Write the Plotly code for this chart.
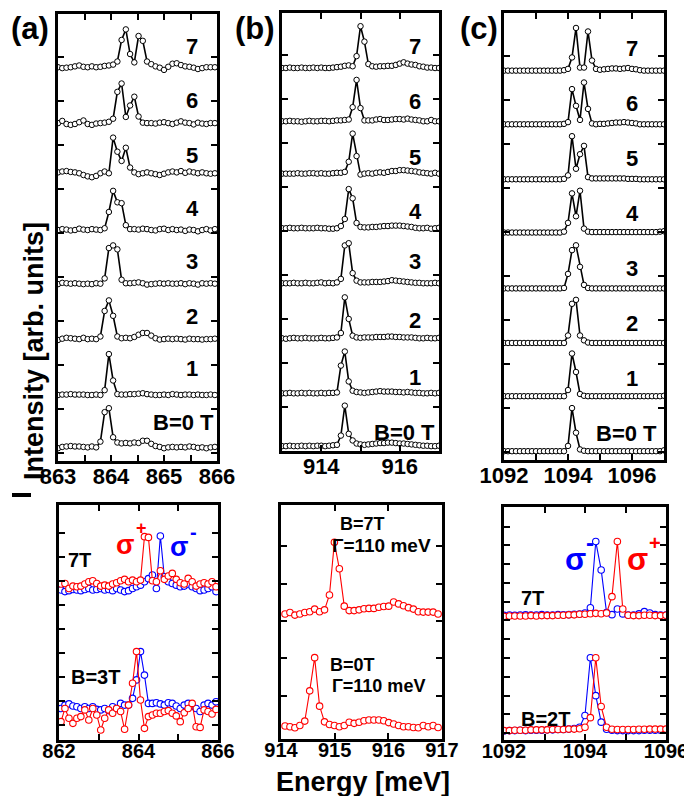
import plotly.graph_objects as go

W, H = 684, 796
FONT = "Liberation Sans, Arial, sans-serif"

def px(x):
    return x / W

def py(y):
    return 1 - y / H

# ---------------- DATA ----------------
# Top row, panel (a): energy grid start/step, baseline offsets, spectra (relative to baseline)
A_X0, A_DX = 863.0, 0.08
A_offsets = [0.11, 1.32, 2.59, 3.86, 5.07, 6.36, 7.48, 8.75]
A0 = [0.0, 0.03, 0.04, 0.05, 0.04, 0.04, 0.03, 0.02, 0.04, 0.02, 0.15, 0.82, 0.91, 0.25, 0.13, 0.11, 0.12, 0.11, 0.13,
      0.12, 0.17, 0.17, 0.10, 0.05, 0.03, 0.0, 0.02, 0.03, 0.02, 0.03, 0.02, 0.04, 0.03, 0.01, 0.02, 0.0, 0.02, 0.03]
A1 = [0.0, 0.01, 0.01, 0.02, 0.01, 0.01, 0.01, 0.0, 0.0, 0.01, 0.0, 0.11, 0.93, 0.33, 0.02, 0.01, 0.01, 0.02, 0.02,
      0.03, 0.04, 0.02, 0.01, 0.0, 0.0, 0.01, 0.0, 0.02, 0.01, 0.0, 0.01, 0.01, 0.0, 0.01, 0.0, 0.0, 0.01, 0.0]
A2 = [-0.02, 0.01, 0.03, 0.02, 0.01, 0.0, 0.03, 0.0, 0.01, 0.0, 0.06, 0.64, 0.88, 0.53, 0.06, 0.02, 0.03, 0.02, 0.05,
      0.10, 0.14, 0.14, 0.08, 0.02, -0.01, 0.0, 0.01, 0.0, 0.01, 0.0, -0.01, 0.01, 0.0, 0.0, -0.01, 0.0, 0.0, 0.01]
A3 = [-0.02, 0.01, 0.0, -0.01, 0.0, -0.01, -0.02, -0.01, -0.02, 0.0, -0.01, 0.11, 0.80, 0.86, 0.77, 0.08, 0.0, 0.0,
      0.01, 0.02, 0.0, -0.03, -0.02, -0.01, 0.0, -0.01, 0.0, -0.01, -0.01, 0.0, -0.02, 0.0, -0.01, -0.03, 0.0, -0.01,
      0.0, -0.01]
A4 = [0.0, 0.02, 0.01, -0.01, 0.0, 0.03, 0.01, 0.0, 0.02, 0.01, 0.0, 0.04, 0.41, 0.89, 0.63, 0.61, 0.11, 0.02, 0.02,
      0.01, 0.03, 0.02, 0.0, -0.01, 0.02, 0.03, 0.0, 0.02, 0.0, 0.01, -0.02, 0.01, 0.0, -0.03, 0.0, 0.02, -0.01, 0.02]
A5 = [0.02, 0.04, 0.05, 0.03, 0.02, 0.0, -0.04, -0.07, -0.09, -0.06, 0.0, 0.04, 0.0, 0.81, 0.49, 0.28, 0.58, 0.13,
      0.02, -0.02, 0.0, 0.02, 0.0, -0.02, -0.04, -0.01, 0.02, 0.04, 0.02, 0.05, 0.01, 0.04, 0.02, 0.0, 0.02, 0.0,
      -0.01, 0.0]
A6 = [0.02, 0.07, 0.0, -0.02, 0.0, 0.04, 0.08, 0.0, -0.02, 0.01, 0.02, 0.03, 0.05, 0.12, 0.73, 0.92, 0.16, 0.42, 0.62,
      0.17, 0.03, 0.02, 0.02, 0.01, 0.03, 0.04, 0.02, 0.0, 0.03, 0.06, 0.03, 0.02, -0.01, 0.03, 0.01, 0.0, 0.02, 0.02]
A7 = [0.02, 0.0, 0.01, 0.02, 0.04, 0.06, 0.03, 0.02, 0.04, 0.02, 0.03, 0.05, 0.06, 0.08, 0.15, 0.64, 0.88, 0.32, 0.13,
      0.73, 0.62, 0.15, 0.09, 0.04, 0.01, -0.04, 0.03, 0.10, 0.11, 0.07, 0.04, 0.03, 0.01, -0.02, 0.0, 0.02, 0.02, 0.02]

# Top row, panel (b)
B_X0, B_DX = 913.0, 0.1
B_offsets = [0.11, 1.31, 2.56, 3.81, 5.06, 6.30, 7.49, 8.70]
B0 = [0.0, 0.0, 0.01, 0.0, 0.0, 0.01, 0.0, 0.01, 0.0, 0.01, 0.01, 0.0, 0.01, 0.02, 0.03, 0.24, 0.92, 0.28, 0.13,
      0.06, 0.04, 0.03, 0.04, 0.05, 0.06, 0.07, 0.07, 0.08, 0.08, 0.07, 0.06, 0.06, 0.05, 0.04, 0.03, 0.02, 0.01, 0.01,
      0.0, 0.0, 0.01]
B1 = [0.0, 0.0, 0.01, 0.0, 0.0, 0.01, 0.0, 0.01, 0.0, 0.0, 0.01, 0.0, 0.01, 0.01, 0.02, 0.63, 0.95, 0.27, 0.06,
      0.03, 0.02, 0.01, 0.02, 0.03, 0.04, 0.05, 0.04, 0.04, 0.04, 0.03, 0.03, 0.02, 0.03, 0.02, 0.01, 0.01, 0.0, 0.0,
      0.01, 0.0, 0.01]
B2 = [0.0, -0.01, 0.0, 0.01, 0.0, 0.0, 0.01, 0.0, 0.0, 0.0, 0.01, 0.0, 0.0, 0.01, 0.02, 0.12, 0.93, 0.44, 0.06,
      0.02, 0.01, 0.02, 0.02, 0.02, 0.03, 0.03, 0.03, 0.04, 0.04, 0.03, 0.03, 0.02, 0.02, 0.02, 0.01, 0.0, 0.0, 0.01,
      0.0, 0.0, 0.01]
B3 = [0.0, 0.0, 0.0, 0.01, 0.0, 0.0, 0.01, 0.0, 0.0, 0.01, 0.02, 0.0, 0.01, 0.0, 0.02, 0.10, 0.86, 0.91, 0.23, 0.06,
      0.02, 0.02, 0.02, 0.03, 0.03, 0.03, 0.04, 0.05, 0.07, 0.06, 0.05, 0.04, 0.03, 0.02, 0.01, 0.01, 0.0, 0.0, 0.0,
      0.01, 0.0]
B4 = [0.0, 0.0, 0.01, 0.0, 0.0, 0.01, 0.0, 0.0, 0.0, 0.01, 0.0, 0.0, -0.01, -0.01, 0.0, 0.05, 0.21, 0.89, 0.68, 0.12,
      0.03, 0.02, 0.02, 0.03, 0.03, 0.04, 0.05, 0.05, 0.06, 0.06, 0.06, 0.05, 0.04, 0.03, 0.01, 0.0, 0.0, 0.01, -0.01,
      0.0, 0.01]
B5 = [0.0, 0.0, 0.0, 0.0, 0.01, 0.0, 0.0, 0.01, 0.01, 0.0, 0.01, 0.0, 0.0, 0.01, 0.02, 0.02, 0.04, 0.27, 0.91, 0.40,
      -0.02, 0.0, 0.01, 0.0, 0.02, 0.03, 0.02, 0.04, 0.06, 0.06, 0.08, 0.08, 0.07, 0.06, 0.05, 0.03, 0.02, 0.01, 0.0,
      0.02, 0.0]
B6 = [0.0, 0.0, 0.01, 0.0, 0.0, -0.01, 0.0, 0.01, 0.0, 0.0, 0.01, 0.01, 0.0, 0.01, 0.02, 0.02, 0.03, 0.04, 0.32, 0.94,
      0.30, 0.02, 0.02, 0.02, 0.04, 0.05, 0.03, 0.03, 0.04, 0.05, 0.05, 0.04, 0.06, 0.04, 0.03, 0.02, 0.0, 0.0, 0.03,
      0.0, 0.0]
B7 = [0.0, 0.0, 0.01, 0.0, 0.0, 0.01, 0.0, 0.0, 0.01, 0.0, 0.01, 0.0, 0.0, 0.01, 0.02, 0.03, 0.05, 0.06, 0.04, 0.27,
      0.95, 0.60, 0.09, 0.04, 0.03, 0.04, 0.04, 0.05, 0.05, 0.07, 0.10, 0.13, 0.10, 0.08, 0.07, 0.04, 0.03, 0.01, 0.01,
      0.0, 0.0]

# Top row, panel (c)
C_X0, C_DX = 1092.0, 0.125
C_offsets = [0.02, 1.27, 2.48, 3.72, 4.99, 6.20, 7.45, 8.67]
C0 = [0.0, 0.0, 0.0, 0.0, 0.0, 0.0, 0.0, 0.0, 0.0, 0.0, 0.0, 0.0, 0.0, 0.0, 0.0, 0.0, 0.12, 0.98, 0.42, 0.04, 0.01,
      0.0, 0.0, 0.0, 0.0, 0.0, 0.0, 0.0, 0.0, 0.0, 0.0, 0.0, 0.0, 0.0, 0.0, 0.0, 0.0, 0.0, 0.0, 0.0, 0.02]
C1 = [0.0, 0.0, 0.0, 0.0, 0.0, 0.0, 0.0, 0.0, 0.0, 0.0, 0.0, 0.0, 0.0, 0.0, 0.0, 0.0, 0.14, 0.97, 0.55, 0.05, 0.01,
      0.0, 0.0, 0.0, 0.0, 0.0, 0.0, 0.0, 0.0, 0.0, 0.0, 0.0, 0.0, 0.0, 0.0, 0.0, 0.0, 0.0, 0.0, 0.0, 0.01]
C2 = [0.0, 0.0, 0.0, 0.0, 0.0, 0.0, 0.0, 0.0, 0.0, 0.0, 0.0, 0.0, 0.0, 0.0, 0.0, 0.0, 0.17, 0.89, 0.98, 0.17, 0.06,
      0.01, 0.0, 0.0, 0.0, 0.0, 0.0, 0.0, 0.0, 0.0, 0.0, 0.0, 0.0, 0.0, 0.0, 0.0, 0.0, 0.0, 0.0, 0.0, 0.0]
C3 = [0.0, 0.0, 0.0, 0.0, 0.0, 0.0, 0.0, 0.0, 0.0, 0.0, 0.0, 0.0, 0.0, 0.0, 0.0, 0.01, 0.33, 0.87, 0.98, 0.49, 0.08,
      0.01, 0.0, 0.0, 0.0, 0.0, 0.0, 0.0, 0.0, 0.0, 0.0, 0.0, 0.0, 0.0, 0.0, 0.0, 0.0, 0.0, 0.0, 0.0, 0.0]
C4 = [0.0, 0.0, 0.0, 0.0, 0.0, 0.0, 0.0, 0.0, 0.0, 0.0, 0.0, 0.0, 0.0, 0.0, 0.0, 0.02, 0.22, 0.89, 0.37, 0.95, 0.09,
      0.02, 0.01, 0.01, 0.01, 0.01, 0.01, 0.01, 0.01, 0.01, 0.01, 0.01, 0.01, 0.01, 0.01, 0.01, 0.01, 0.01, 0.01, 0.02,
      0.03]
C5 = [0.0, 0.0, 0.0, 0.0, 0.0, 0.0, 0.0, 0.0, 0.0, 0.0, 0.0, 0.0, 0.0, 0.0, 0.0, 0.01, 0.09, 0.98, 0.24, 0.57, 0.76,
      0.05, 0.02, 0.02, 0.02, 0.02, 0.02, 0.02, 0.02, 0.02, 0.02, 0.01, 0.01, 0.01, 0.0, 0.0, 0.0, 0.0, 0.0, 0.0, 0.0]
C6 = [0.0, 0.0, 0.0, 0.0, 0.0, 0.0, 0.0, 0.0, 0.0, 0.0, 0.0, 0.0, 0.0, 0.0, 0.0, 0.01, 0.05, 0.80, 0.42, 0.10, 0.95,
      0.35, 0.02, 0.0, 0.01, 0.01, 0.02, 0.03, 0.04, 0.04, 0.05, 0.04, 0.03, 0.02, 0.0, 0.0, 0.0, 0.0, 0.0, 0.0, 0.0]
C7 = [0.0, 0.0, 0.0, 0.0, 0.0, 0.0, 0.0, 0.0, 0.0, 0.0, 0.0, 0.0, 0.0, 0.0, 0.0, 0.01, 0.04, 0.30, 0.97, 0.07, 0.07,
      0.89, 0.23, 0.04, 0.02, 0.03, 0.04, 0.05, 0.05, 0.04, 0.05, 0.06, 0.04, 0.03, 0.01, 0.0, 0.0, 0.0, 0.0, 0.0, 0.0]

TOP_LABELS = ["B=0 T", "1", "2", "3", "4", "5", "6", "7"]

# Bottom row, panel (a): B=3T and 7T, sigma+ (red) / sigma- (blue)
DA_X0, DA_DX = 862.05, 0.1
DA_RED_7T = [6.88, 6.90, 6.69, 6.79, 6.76, 6.79, 6.88, 6.97, 7.01, 6.90, 6.79, 6.83, 6.79, 6.88, 6.93, 7.01, 7.07,
             6.97, 7.04, 6.97, 7.04, 8.85, 8.82, 7.01, 6.97, 7.43, 7.07, 7.21, 7.32, 7.07, 6.93, 6.88, 7.11, 6.97,
             6.79, 6.88, 6.93, 6.88, 6.97, 6.76]
DA_BLUE_7T = [6.63, 6.56, 6.60, 6.65, 6.63, 6.60, 6.65, 6.69, 6.63, 6.65, 6.69, 6.63, 6.65, 6.60, 6.69, 6.63, 6.56,
              6.60, 6.69, 6.76, 6.83, 6.97, 7.10, 7.25, 6.69, 8.88, 7.18, 6.97, 6.90, 6.83, 6.76, 6.79, 6.88, 6.76,
              6.69, 6.60, 6.63, 6.69, 6.76, 6.56]
DA_RED_3T = [1.14, 1.69, 1.28, 1.07, 1.28, 1.35, 1.63, 1.21, 1.69, 1.42, 0.79, 1.28, 1.63, 1.49, 1.69, 1.56, 0.82,
             1.83, 2.74, 4.06, 2.04, 0.86, 1.35, 1.42, 1.49, 1.49, 1.56, 1.60, 1.49, 1.38, 1.14, 1.51, 1.69, 1.90,
             0.93, 0.90, 1.63, 1.56, 1.46, 1.65]
DA_BLUE_3T = [1.69, 1.83, 1.88, 1.79, 1.76, 1.69, 1.76, 1.69, 1.76, 1.65, 1.63, 1.69, 1.60, 1.76, 1.69, 1.90, 1.83,
              1.83, 2.11, 2.88, 4.06, 3.08, 1.90, 1.90, 1.93, 1.88, 1.83, 1.93, 1.90, 1.79, 1.69, 1.83, 1.90, 1.79,
              1.69, 1.56, 1.83, 1.90, 1.83, 1.97]

# Bottom row, panel (b): B=0T and 7T, Gamma=110 meV
DB_X0, DB_DX = 914.075, 0.092
DB_7T = [3.19, 3.23, 3.16, 3.19, 3.23, 3.25, 3.32, 3.25, 3.30, 3.70, 5.11, 4.40, 3.40, 3.28, 3.28, 3.30, 3.33, 3.34,
         3.34, 3.37, 3.39, 3.40, 3.51, 3.46, 3.41, 3.36, 3.32, 3.25, 3.24, 3.24, 3.24, 3.19]
DB_0T = [0.19, 0.17, 0.14, 0.20, 0.32, 1.13, 2.02, 0.72, 0.30, 0.23, 0.20, 0.17, 0.20, 0.29, 0.26, 0.29, 0.33, 0.35,
         0.35, 0.35, 0.33, 0.28, 0.24, 0.20, 0.17, 0.17, 0.15, 0.14, 0.20, 0.17, 0.20, 0.15]

# Bottom row, panel (c): B=2T and 7T
DC_X0, DC_DX = 1092.0, 0.1333
DC_BLUE_7T = [6.27, 6.29, 6.27, 6.29, 6.30, 6.29, 6.29, 6.31, 6.29, 6.29, 6.31, 6.30, 6.31, 6.33, 6.34, 6.40, 6.68,
              10.20, 8.69, 6.42, 6.31, 6.61, 6.35, 6.29, 6.29, 6.35, 6.47, 6.40, 6.31, 6.29, 6.29]
DC_RED_7T = [6.22, 6.24, 6.24, 6.24, 6.24, 6.26, 6.24, 6.26, 6.26, 6.26, 6.28, 6.28, 6.30, 6.30, 6.33, 6.33, 6.36,
             6.38, 6.36, 6.40, 7.27, 10.20, 6.61, 6.28, 6.26, 6.26, 6.28, 6.28, 6.26, 6.26, 6.28]
DC_BLUE_2T = [0.12, 0.14, 0.14, 0.16, 0.14, 0.16, 0.16, 0.16, 0.18, 0.18, 0.20, 0.20, 0.22, 0.25, 0.32, 0.94, 4.02,
              2.00, 0.59, 0.21, 0.16, 0.14, 0.14, 0.14, 0.14, 0.14, 0.16, 0.16, 0.16, 0.16, 0.16]
DC_RED_2T = [0.14, 0.14, 0.16, 0.16, 0.16, 0.18, 0.18, 0.18, 0.18, 0.20, 0.20, 0.20, 0.22, 0.22, 0.24, 0.32, 0.83,
             4.02, 1.42, 0.32, 0.21, 0.20, 0.20, 0.20, 0.20, 0.21, 0.21, 0.22, 0.22, 0.22, 0.22]

RED = "#ff0000"
BLUE = "#0000ff"


def grid(x0, dx, n):
    return [x0 + dx * i for i in range(n)]


fig = go.Figure()


def top_traces(axis_id, x0, dx, offsets, spectra):
    for off, spec in zip(offsets, spectra):
        fig.add_trace(go.Scatter(
            x=grid(x0, dx, len(spec)), y=[off + v for v in spec],
            mode="lines+markers", xaxis="x" + axis_id, yaxis="y" + axis_id,
            line=dict(color="black", width=1.6),
            marker=dict(symbol="circle", size=5.5, color="white", line=dict(color="black", width=1)),
            showlegend=False, hoverinfo="skip"))


def bottom_trace(axis_id, x0, dx, vals, color):
    fig.add_trace(go.Scatter(
        x=grid(x0, dx, len(vals)), y=vals, mode="lines+markers",
        xaxis="x" + axis_id, yaxis="y" + axis_id,
        line=dict(color=color, width=1.1),
        marker=dict(symbol="circle", size=6.5, color="white", line=dict(color=color, width=1.1)),
        showlegend=False, hoverinfo="skip"))


top_traces("", A_X0, A_DX, A_offsets, [A0, A1, A2, A3, A4, A5, A6, A7])
top_traces("2", B_X0, B_DX, B_offsets, [B0, B1, B2, B3, B4, B5, B6, B7])
top_traces("3", C_X0, C_DX, C_offsets, [C0, C1, C2, C3, C4, C5, C6, C7])

bottom_trace("4", DA_X0, DA_DX, DA_BLUE_7T, BLUE)
bottom_trace("4", DA_X0, DA_DX, DA_RED_7T, RED)
bottom_trace("4", DA_X0, DA_DX, DA_BLUE_3T, BLUE)
bottom_trace("4", DA_X0, DA_DX, DA_RED_3T, RED)
bottom_trace("5", DB_X0, DB_DX, DB_7T, RED)
bottom_trace("5", DB_X0, DB_DX, DB_0T, RED)
bottom_trace("6", DC_X0, DC_DX, DC_BLUE_7T, BLUE)
bottom_trace("6", DC_X0, DC_DX, DC_RED_7T, RED)
bottom_trace("6", DC_X0, DC_DX, DC_BLUE_2T, BLUE)
bottom_trace("6", DC_X0, DC_DX, DC_RED_2T, RED)


def xax(l, r, rng, tick0, dtick, minor_dtick, anchor, size, standoff):
    d = dict(domain=[px(l), px(r)], range=rng, anchor=anchor,
             showline=True, linewidth=2.5, linecolor="black", mirror="allticks",
             ticks="inside", ticklen=6, tickwidth=2, tickcolor="black",
             tick0=tick0, dtick=dtick, showgrid=False, zeroline=False,
             ticklabelstandoff=standoff, ticklabeloverflow="allow",
             tickfont=dict(family=FONT, size=size, color="black", weight="bold"))
    if minor_dtick:
        d["minor"] = dict(ticks="inside", ticklen=6, tickwidth=2, tickcolor="black",
                          tick0=tick0, dtick=minor_dtick, showgrid=False)
    return d


def yax(t, b, rng, tickvals, anchor):
    return dict(domain=[py(b), py(t)], range=rng, anchor=anchor,
                showline=True, linewidth=2.5, linecolor="black", mirror="allticks",
                ticks="inside", ticklen=6, tickwidth=2, tickcolor="black",
                tickvals=tickvals, showticklabels=False, showgrid=False, zeroline=False)


fig.update_layout(
    width=W, height=H, margin=dict(l=0, r=0, t=0, b=0, autoexpand=False),
    paper_bgcolor="white", plot_bgcolor="white",
    xaxis=xax(58, 217, [863, 866], 863, 1, 0.5, "y", 22, -6),
    yaxis=yax(14, 461, [-0.18, 9.98], [0, 1, 2, 3, 4, 5, 6, 7, 8, 9], "x"),
    xaxis2=xax(282, 439, [913, 917], 914, 2, 1, "y2", 22, -6),
    yaxis2=yax(13, 451, [0.0, 9.95], [1, 2, 3, 4, 5, 6, 7, 8, 9], "x2"),
    xaxis3=xax(504, 664, [1092, 1097], 1092, 2, 1, "y3", 22, -6),
    yaxis3=yax(13, 460, [-0.18, 9.98], [0, 1, 2, 3, 4, 5, 6, 7, 8, 9], "x3"),
    xaxis4=xax(59, 218, [862, 866], 862, 2, 1, "y4", 20, -9),
    yaxis4=yax(505, 740, [0.375, 10.17], [1, 2, 3, 4, 5, 6, 7, 8, 9], "x4"),
    xaxis5=xax(281, 442, [914, 917], 914, 1, None, "y5", 20, -9),
    yaxis5=yax(505, 739, [-0.16, 6.11], [1, 2, 3, 4, 5], "x5"),
    xaxis6=xax(504, 666, [1092, 1096], 1092, 2, 1, "y6", 20, -9),
    yaxis6=yax(507, 740, [-0.36, 12.04], [0, 1, 2, 3, 4, 5, 6, 7, 8, 9, 10, 11], "x6"),
)

ann = []


def text(x, y, s, size, color="black", xanchor="center", bold=True):
    ann.append(dict(x=px(x), y=py(y), xref="paper", yref="paper", text=s, showarrow=False,
                    xanchor=xanchor, yanchor="middle",
                    font=dict(family=FONT, size=size, color=color, weight="bold" if bold else "normal")))


# panel letters
text(30, 28, "(a)", 31)
text(255, 28, "(b)", 31)
text(479, 28, "(c)", 31)

# top row labels
ya = [422, 368, 316, 262, 208, 155, 101, 47]
yb = [432, 377, 320, 262, 212, 157, 102, 47]
yc = [433, 378, 323, 268, 213, 158, 103, 48]
for i, lab in enumerate(TOP_LABELS):
    if i == 0:
        text(216, ya[i], lab, 22, xanchor="right")
        text(437, yb[i], lab, 22, xanchor="right")
        text(659, yc[i], lab, 22, xanchor="right")
    else:
        text(192, ya[i], lab, 22)
        text(415, yb[i], lab, 22)
        text(632, yc[i], lab, 22)

# bottom (a)
text(125, 545, "σ", 27, RED)
text(141, 528, "+", 18, RED)
text(179, 547, "σ", 27, BLUE)
text(193, 532, "-", 20, BLUE)
text(79, 560, "7T", 20)
text(95, 677, "B=3T", 20)

# bottom (b)
text(338, 524, "B=7T", 18, xanchor="left")
text(330, 545, "Γ=110 meV", 19, xanchor="left")
text(328, 665, "B=0T", 18, xanchor="left")
text(330, 686, "Γ=110 meV", 18, xanchor="left")

# bottom (c)
text(575, 559, "σ", 31, BLUE)
text(590, 542, "-", 24, BLUE)
text(637, 559, "σ", 31, RED)
text(655, 543, "+", 20, RED)
text(532, 598, "7T", 20)
text(545, 719, "B=2T", 20)

# axis titles
text(363, 782, "Energy [meV]", 27)
ann.append(dict(x=px(34), y=py(351), xref="paper", yref="paper", text="Intensity [arb. units]",
                showarrow=False, textangle=-90, xanchor="center", yanchor="middle",
                font=dict(family=FONT, size=27, color="black", weight="bold")))

fig.update_layout(annotations=ann)
fig.add_shape(type="line", xref="paper", yref="paper", x0=px(12), x1=px(31), y0=py(495), y1=py(495),
              line=dict(color="black", width=4))

fig.write_html("out.html", config={"displayModeBar": False},
               post_script="document.body.style.margin='0';document.body.style.overflow='hidden';")
